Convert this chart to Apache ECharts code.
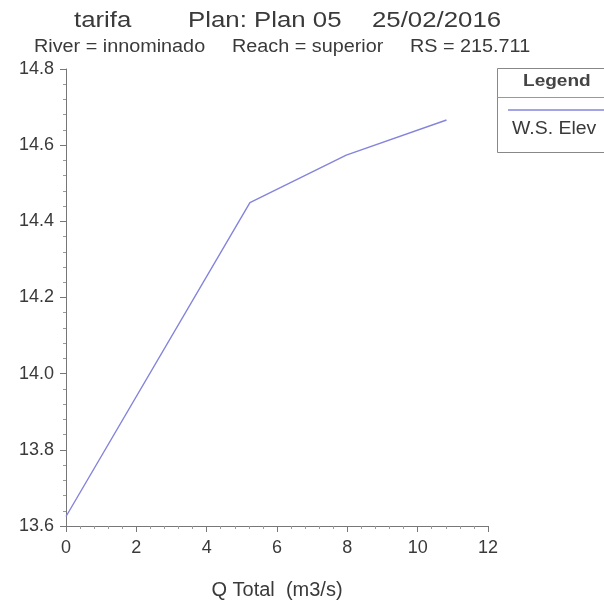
<!DOCTYPE html>
<html><head><meta charset="utf-8">
<script src="https://cdn.jsdelivr.net/npm/echarts@6/dist/echarts.min.js"></script>
<style>html,body{margin:0;padding:0;background:#fff}#c{width:604px;height:608px}</style>
</head><body><div id="c"></div>
<script>
var qTotal = [0, 5.23, 7.97, 10.82];
var wsElev = [13.625, 14.449, 14.574, 14.666];
var seriesName = 'W.S. Elev';
var xTicks = [0, 2, 4, 6, 8, 10, 12];
var yTicks = [13.6, 13.8, 14.0, 14.2, 14.4, 14.6, 14.8];
var titleParts = ['tarifa', 'Plan: Plan 05', '25/02/2016'];
var subtitleParts = ['River = innominado', 'Reach = superior', 'RS = 215.711'];

var FONT = '"Liberation Sans", Arial, sans-serif';
var chart = echarts.init(document.getElementById('c'), null, {renderer: 'canvas'});
var pts = qTotal.map(function (q, i) { return [q, wsElev[i]]; });
var axisCol = '#777';
var lineCol = '#8484dc';

function txt(s, x, y, size, sx, extra) {
  var st = {text: s, fontFamily: FONT, fontSize: size, fill: '#3a3a3a', verticalAlign: 'middle', align: 'left'};
  if (extra) for (var k in extra) st[k] = extra[k];
  return {type: 'text', x: x, y: y, scaleX: sx, style: st, silent: true};
}
var titleX = [74, 188, 372];
var subX = [34, 232, 410];
var graphics = [];
titleParts.forEach(function (t, i) { graphics.push(txt(t, titleX[i], 21, 21.5, 1.2)); });
subtitleParts.forEach(function (t, i) { graphics.push(txt(t, subX[i], 47.5, 18, 1.1)); });
graphics.push(
  {type: 'rect', shape: {x: 497.5, y: 68.5, width: 120, height: 84},
   style: {fill: '#fff', stroke: '#888', lineWidth: 1}},
  txt('Legend', 523, 81, 17, 1.12, {fontWeight: 'bold', fill: '#444'}),
  {type: 'line', shape: {x1: 497, y1: 97.5, x2: 604, y2: 97.5}, style: {stroke: '#999', lineWidth: 1}},
  {type: 'line', shape: {x1: 508, y1: 110, x2: 604, y2: 110}, style: {stroke: lineCol, lineWidth: 1.3}},
  txt(seriesName, 512, 129, 18, 1.08)
);

chart.setOption({
  animation: false,
  backgroundColor: '#fff',
  grid: {left: 66, right: 116, top: 69, bottom: 82, containLabel: false},
  xAxis: {
    type: 'value', min: xTicks[0], max: xTicks[xTicks.length - 1], interval: 2,
    name: 'Q Total  (m3/s)', nameLocation: 'middle', nameGap: 54,
    nameTextStyle: {fontFamily: FONT, fontSize: 20, color: '#3a3a3a'},
    axisLine: {show: true, lineStyle: {color: axisCol, width: 1}},
    axisTick: {show: true, length: 6, lineStyle: {color: axisCol}},
    minorTick: {show: true, splitNumber: 5, length: 3, lineStyle: {color: '#999'}},
    splitLine: {show: false},
    axisLabel: {fontFamily: FONT, fontSize: 18, color: '#3a3a3a', margin: 13}
  },
  yAxis: {
    type: 'value', min: yTicks[0], max: yTicks[yTicks.length - 1], interval: 0.2,
    axisLine: {show: true, lineStyle: {color: axisCol, width: 1}},
    axisTick: {show: true, length: 6, lineStyle: {color: axisCol}},
    minorTick: {show: true, splitNumber: 5, length: 3, lineStyle: {color: '#999'}},
    splitLine: {show: false},
    axisLabel: {fontFamily: FONT, fontSize: 18, color: '#3a3a3a', margin: 12,
      formatter: function (v) { return v.toFixed(1); }}
  },
  series: [{
    name: seriesName, type: 'line', data: pts, symbol: 'none',
    lineStyle: {color: lineCol, width: 1.4}
  }],
  graphic: graphics
});
</script></body></html>
